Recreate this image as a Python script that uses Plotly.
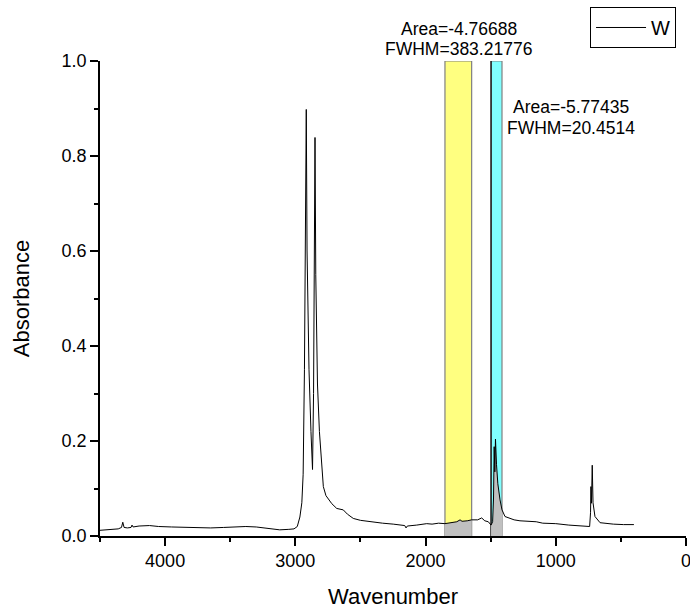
import numpy as np
import plotly.graph_objects as go

# Spectrum (wavenumber, absorbance)
wavenumber = [4500, 4420, 4360, 4335, 4325, 4315, 4290, 4262, 4254, 4246, 4200, 4120, 4050, 3950,
              3850, 3750, 3650, 3550, 3450, 3380, 3300, 3200, 3120, 3050, 3010, 2985, 2965, 2950,
              2940, 2930, 2922, 2916, 2910, 2895, 2880, 2868, 2860, 2853, 2849, 2843, 2830, 2815,
              2800, 2785, 2765, 2747, 2720, 2682, 2650, 2632, 2600, 2555, 2500, 2450, 2401, 2330,
              2248, 2200, 2160, 2150, 2140, 2068, 2030, 1991, 1950, 1900, 1851, 1800, 1760, 1735,
              1720, 1680, 1646, 1600, 1569, 1545, 1518, 1497, 1485, 1478, 1473, 1468, 1463, 1455,
              1445, 1428, 1413, 1390, 1352, 1320, 1275, 1230, 1150, 1100, 1000, 900, 814, 760,
              740, 733, 730, 726, 720, 714, 705, 699, 660, 600, 558, 480, 400]
absorbance = [0.012, 0.013, 0.015, 0.018, 0.029, 0.018, 0.017, 0.018, 0.023, 0.019, 0.021, 0.022,
              0.020, 0.019, 0.018, 0.017, 0.017, 0.018, 0.019, 0.020, 0.019, 0.016, 0.013, 0.014,
              0.015, 0.020, 0.040, 0.070, 0.130, 0.350, 0.700, 0.898, 0.600, 0.350, 0.220, 0.140,
              0.300, 0.700, 0.839, 0.550, 0.320, 0.220, 0.165, 0.104, 0.085, 0.079, 0.068, 0.058,
              0.057, 0.055, 0.046, 0.037, 0.033, 0.031, 0.029, 0.027, 0.025, 0.023, 0.022, 0.017,
              0.021, 0.023, 0.025, 0.026, 0.025, 0.027, 0.026, 0.029, 0.030, 0.034, 0.031, 0.032,
              0.034, 0.034, 0.038, 0.032, 0.030, 0.023, 0.030, 0.080, 0.188, 0.135, 0.204, 0.150,
              0.110, 0.076, 0.055, 0.041, 0.037, 0.034, 0.032, 0.031, 0.030, 0.027, 0.026, 0.023,
              0.021, 0.020, 0.020, 0.050, 0.104, 0.069, 0.149, 0.070, 0.045, 0.041, 0.028, 0.026,
              0.025, 0.024, 0.024]

series_name = "W"
# integration ranges (wavenumber) and their labels
peak1_range = [1851, 1646]
peak2_range = [1497, 1413]
peak1_text = ["Area=-4.76688", "FWHM=383.21776"]
peak2_text = ["Area=-5.77435", "FWHM=20.4514"]

x_ticks = [4000, 3000, 2000, 1000, 0]
y_ticks = [0.0, 0.2, 0.4, 0.6, 0.8, 1.0]

wn = np.array(wavenumber, dtype=float)
ab = np.array(absorbance, dtype=float)

fig = go.Figure()

for rng in (peak1_range, peak2_range):
    m = (wn <= rng[0]) & (wn >= rng[1])
    fig.add_trace(go.Scatter(x=wn[m], y=ab[m], mode="lines", fill="tozeroy",
                             fillcolor="#c0c0c0", line=dict(width=0, color="#c0c0c0"),
                             showlegend=False, hoverinfo="skip"))

fig.add_trace(go.Scatter(x=wn, y=ab, mode="lines", name=series_name,
                         line=dict(color="black", width=1)))

shapes = [
    dict(type="rect", xref="x", yref="y", x0=peak1_range[0], x1=peak1_range[1], y0=0, y1=1,
         fillcolor="#ffff80", line=dict(color="#808080", width=1.2), layer="below"),
    dict(type="rect", xref="x", yref="y", x0=peak2_range[0], x1=peak2_range[1], y0=0, y1=1,
         fillcolor="#80ffff", line=dict(color="#808080", width=1.2), layer="below"),
    dict(type="line", xref="x", yref="y", x0=peak2_range[0], x1=peak2_range[0], y0=0, y1=1,
         line=dict(color="black", width=1.2), layer="below"),
]

font_family = "Liberation Sans, Arial, sans-serif"
ann_font = dict(family=font_family, size=17.5, color="black")
annotations = [
    dict(xref="paper", yref="paper", x=0.6126, y=1.0684, text=peak1_text[0], showarrow=False,
         xanchor="center", yanchor="middle", font=ann_font),
    dict(xref="paper", yref="paper", x=0.6126, y=1.0253, text=peak1_text[1], showarrow=False,
         xanchor="center", yanchor="middle", font=ann_font),
    dict(xref="paper", yref="paper", x=0.804, y=0.9042, text=peak2_text[0], showarrow=False,
         xanchor="center", yanchor="middle", font=ann_font),
    dict(xref="paper", yref="paper", x=0.804, y=0.860, text=peak2_text[1], showarrow=False,
         xanchor="center", yanchor="middle", font=ann_font),
]

fig.update_layout(
    width=690, height=609,
    margin=dict(l=100, r=4, t=61, b=73, autoexpand=False),
    paper_bgcolor="white", plot_bgcolor="white",
    font=dict(family=font_family, size=18, color="black"),
    shapes=shapes, annotations=annotations,
    showlegend=True,
    legend=dict(x=0.983, y=1.1137, xanchor="right", yanchor="top",
                bordercolor="black", borderwidth=1, bgcolor="white",
                font=dict(family=font_family, size=20, color="black"),
                itemwidth=50, tracegroupgap=0),
)

fig.update_xaxes(
    range=[4500, 0], tickvals=x_ticks, ticktext=[str(v) for v in x_ticks],
    ticklabeloverflow="allow", automargin=False,
    showgrid=False, zeroline=False, showline=True, linecolor="black", linewidth=1.5,
    ticks="outside", ticklen=8, tickwidth=1.5, tickcolor="black",
    minor=dict(tickvals=[4500, 3500, 2500, 1500, 500], ticks="outside", ticklen=4,
               tickwidth=1.5, tickcolor="black", showgrid=False),
    title=dict(text="Wavenumber", font=dict(family=font_family, size=22), standoff=20),
    tickfont=dict(family=font_family, size=18),
)
fig.update_yaxes(
    range=[0, 1.0], tickvals=y_ticks, ticktext=["%.1f" % v for v in y_ticks],
    automargin=False,
    showgrid=False, zeroline=False, showline=True, linecolor="black", linewidth=1.5,
    ticks="outside", ticklen=8, tickwidth=1.5, tickcolor="black",
    minor=dict(tickvals=[0.1, 0.3, 0.5, 0.7, 0.9], ticks="outside", ticklen=4,
               tickwidth=1.5, tickcolor="black", showgrid=False),
    title=dict(text="Absorbance", font=dict(family=font_family, size=22), standoff=26),
    tickfont=dict(family=font_family, size=18),
)

fig.write_html("out.html")
